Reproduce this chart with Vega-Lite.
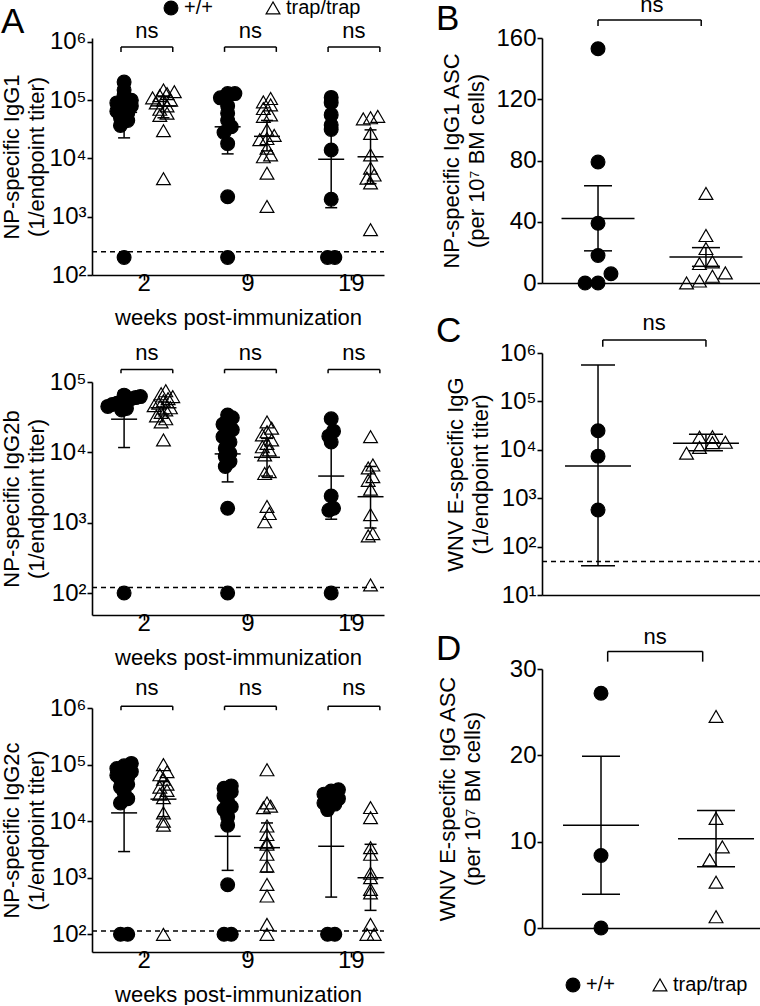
{
"$schema": "https://vega.github.io/schema/vega-lite/v6.json",
"padding": {"top": -12, "left": 0, "right": 0, "bottom": 0},
"background": "white",
"config": {
  "font": "Liberation Sans",
  "view": {"stroke": null},
  "axis": {"grid": false, "domainColor": "black", "domainWidth": 1.6, "tickColor": "black", "tickWidth": 1.6, "tickSize": 5, "labelColor": "black", "labelFont": "Liberation Sans", "labelFontSize": 24, "labelPadding": 1, "titleFont": "Liberation Sans", "titleFontSize": 22, "titleFontWeight": "normal", "titleColor": "black", "titleLineHeight": 25, "labelFlush": false, "labelAngle": 0},
  "axisX": {"titlePadding": 12, "labelPadding": -9},
  "title": {"font": "Liberation Sans", "fontSize": 35, "fontWeight": "normal", "color": "black", "anchor": "start", "frame": "group", "baseline": "alphabetic", "offset": 0}
},
"datasets": {
  "pts": [
    {"p":"a1","w":"2","g":"+/+","v":205000},{"p":"a1","w":"2","g":"+/+","v":150000},{"p":"a1","w":"2","g":"+/+","v":120000},{"p":"a1","w":"2","g":"+/+","v":100000},{"p":"a1","w":"2","g":"+/+","v":100000},{"p":"a1","w":"2","g":"+/+","v":90000},{"p":"a1","w":"2","g":"+/+","v":80000},{"p":"a1","w":"2","g":"+/+","v":70000},{"p":"a1","w":"2","g":"+/+","v":65000},{"p":"a1","w":"2","g":"+/+","v":60000},{"p":"a1","w":"2","g":"+/+","v":50000},{"p":"a1","w":"2","g":"+/+","v":45000},{"p":"a1","w":"2","g":"+/+","v":37000},{"p":"a1","w":"2","g":"+/+","v":200},
    {"p":"a1","w":"2","g":"trap/trap","v":150000},{"p":"a1","w":"2","g":"trap/trap","v":140000},{"p":"a1","w":"2","g":"trap/trap","v":130000},{"p":"a1","w":"2","g":"trap/trap","v":120000},{"p":"a1","w":"2","g":"trap/trap","v":110000},{"p":"a1","w":"2","g":"trap/trap","v":100000},{"p":"a1","w":"2","g":"trap/trap","v":100000},{"p":"a1","w":"2","g":"trap/trap","v":90000},{"p":"a1","w":"2","g":"trap/trap","v":80000},{"p":"a1","w":"2","g":"trap/trap","v":70000},{"p":"a1","w":"2","g":"trap/trap","v":60000},{"p":"a1","w":"2","g":"trap/trap","v":55000},{"p":"a1","w":"2","g":"trap/trap","v":30000},{"p":"a1","w":"2","g":"trap/trap","v":4500},
    {"p":"a1","w":"9","g":"+/+","v":130000},{"p":"a1","w":"9","g":"+/+","v":130000},{"p":"a1","w":"9","g":"+/+","v":110000},{"p":"a1","w":"9","g":"+/+","v":80000},{"p":"a1","w":"9","g":"+/+","v":60000},{"p":"a1","w":"9","g":"+/+","v":45000},{"p":"a1","w":"9","g":"+/+","v":35000},{"p":"a1","w":"9","g":"+/+","v":28000},{"p":"a1","w":"9","g":"+/+","v":18000},{"p":"a1","w":"9","g":"+/+","v":2200},{"p":"a1","w":"9","g":"+/+","v":200},
    {"p":"a1","w":"9","g":"trap/trap","v":107000},{"p":"a1","w":"9","g":"trap/trap","v":94000},{"p":"a1","w":"9","g":"trap/trap","v":83000},{"p":"a1","w":"9","g":"trap/trap","v":72000},{"p":"a1","w":"9","g":"trap/trap","v":56000},{"p":"a1","w":"9","g":"trap/trap","v":53000},{"p":"a1","w":"9","g":"trap/trap","v":31000},{"p":"a1","w":"9","g":"trap/trap","v":25000},{"p":"a1","w":"9","g":"trap/trap","v":22000},{"p":"a1","w":"9","g":"trap/trap","v":21000},{"p":"a1","w":"9","g":"trap/trap","v":15000},{"p":"a1","w":"9","g":"trap/trap","v":11500},{"p":"a1","w":"9","g":"trap/trap","v":10700},{"p":"a1","w":"9","g":"trap/trap","v":5600},{"p":"a1","w":"9","g":"trap/trap","v":1500},
    {"p":"a1","w":"19","g":"+/+","v":112000},{"p":"a1","w":"19","g":"+/+","v":91000},{"p":"a1","w":"19","g":"+/+","v":56000},{"p":"a1","w":"19","g":"+/+","v":37600},{"p":"a1","w":"19","g":"+/+","v":31500},{"p":"a1","w":"19","g":"+/+","v":14000},{"p":"a1","w":"19","g":"+/+","v":2000},{"p":"a1","w":"19","g":"+/+","v":200},{"p":"a1","w":"19","g":"+/+","v":200},
    {"p":"a1","w":"19","g":"trap/trap","v":53000},{"p":"a1","w":"19","g":"trap/trap","v":50000},{"p":"a1","w":"19","g":"trap/trap","v":48000},{"p":"a1","w":"19","g":"trap/trap","v":27000},{"p":"a1","w":"19","g":"trap/trap","v":11500},{"p":"a1","w":"19","g":"trap/trap","v":6800},{"p":"a1","w":"19","g":"trap/trap","v":5200},{"p":"a1","w":"19","g":"trap/trap","v":4600},{"p":"a1","w":"19","g":"trap/trap","v":3800},{"p":"a1","w":"19","g":"trap/trap","v":600},
    {"p":"a2","w":"2","g":"+/+","v":65000},{"p":"a2","w":"2","g":"+/+","v":62000},{"p":"a2","w":"2","g":"+/+","v":60000},{"p":"a2","w":"2","g":"+/+","v":58000},{"p":"a2","w":"2","g":"+/+","v":55000},{"p":"a2","w":"2","g":"+/+","v":52000},{"p":"a2","w":"2","g":"+/+","v":50000},{"p":"a2","w":"2","g":"+/+","v":48000},{"p":"a2","w":"2","g":"+/+","v":45000},{"p":"a2","w":"2","g":"+/+","v":42000},{"p":"a2","w":"2","g":"+/+","v":40000},{"p":"a2","w":"2","g":"+/+","v":100},
    {"p":"a2","w":"2","g":"trap/trap","v":75000},{"p":"a2","w":"2","g":"trap/trap","v":68000},{"p":"a2","w":"2","g":"trap/trap","v":62000},{"p":"a2","w":"2","g":"trap/trap","v":58000},{"p":"a2","w":"2","g":"trap/trap","v":54000},{"p":"a2","w":"2","g":"trap/trap","v":50000},{"p":"a2","w":"2","g":"trap/trap","v":46000},{"p":"a2","w":"2","g":"trap/trap","v":43000},{"p":"a2","w":"2","g":"trap/trap","v":40000},{"p":"a2","w":"2","g":"trap/trap","v":37000},{"p":"a2","w":"2","g":"trap/trap","v":33000},{"p":"a2","w":"2","g":"trap/trap","v":30000},{"p":"a2","w":"2","g":"trap/trap","v":27000},{"p":"a2","w":"2","g":"trap/trap","v":15000},
    {"p":"a2","w":"9","g":"+/+","v":34000},{"p":"a2","w":"9","g":"+/+","v":31000},{"p":"a2","w":"9","g":"+/+","v":29000},{"p":"a2","w":"9","g":"+/+","v":25000},{"p":"a2","w":"9","g":"+/+","v":21000},{"p":"a2","w":"9","g":"+/+","v":19000},{"p":"a2","w":"9","g":"+/+","v":16700},{"p":"a2","w":"9","g":"+/+","v":14000},{"p":"a2","w":"9","g":"+/+","v":11400},{"p":"a2","w":"9","g":"+/+","v":9700},{"p":"a2","w":"9","g":"+/+","v":8700},{"p":"a2","w":"9","g":"+/+","v":7400},{"p":"a2","w":"9","g":"+/+","v":6300},{"p":"a2","w":"9","g":"+/+","v":1600},{"p":"a2","w":"9","g":"+/+","v":100},
    {"p":"a2","w":"9","g":"trap/trap","v":27000},{"p":"a2","w":"9","g":"trap/trap","v":22000},{"p":"a2","w":"9","g":"trap/trap","v":19600},{"p":"a2","w":"9","g":"trap/trap","v":17700},{"p":"a2","w":"9","g":"trap/trap","v":15000},{"p":"a2","w":"9","g":"trap/trap","v":13400},{"p":"a2","w":"9","g":"trap/trap","v":12000},{"p":"a2","w":"9","g":"trap/trap","v":10800},{"p":"a2","w":"9","g":"trap/trap","v":9200},{"p":"a2","w":"9","g":"trap/trap","v":5300},{"p":"a2","w":"9","g":"trap/trap","v":5000},{"p":"a2","w":"9","g":"trap/trap","v":1700},{"p":"a2","w":"9","g":"trap/trap","v":1350},{"p":"a2","w":"9","g":"trap/trap","v":1030},
    {"p":"a2","w":"19","g":"+/+","v":30000},{"p":"a2","w":"19","g":"+/+","v":20000},{"p":"a2","w":"19","g":"+/+","v":17000},{"p":"a2","w":"19","g":"+/+","v":14000},{"p":"a2","w":"19","g":"+/+","v":2400},{"p":"a2","w":"19","g":"+/+","v":1600},{"p":"a2","w":"19","g":"+/+","v":1500},{"p":"a2","w":"19","g":"+/+","v":100},
    {"p":"a2","w":"19","g":"trap/trap","v":16700},{"p":"a2","w":"19","g":"trap/trap","v":6600},{"p":"a2","w":"19","g":"trap/trap","v":6000},{"p":"a2","w":"19","g":"trap/trap","v":4500},{"p":"a2","w":"19","g":"trap/trap","v":4000},{"p":"a2","w":"19","g":"trap/trap","v":3000},{"p":"a2","w":"19","g":"trap/trap","v":1300},{"p":"a2","w":"19","g":"trap/trap","v":700},{"p":"a2","w":"19","g":"trap/trap","v":650},{"p":"a2","w":"19","g":"trap/trap","v":130},
    {"p":"a3","w":"2","g":"+/+","v":105000},{"p":"a3","w":"2","g":"+/+","v":95000},{"p":"a3","w":"2","g":"+/+","v":85000},{"p":"a3","w":"2","g":"+/+","v":75000},{"p":"a3","w":"2","g":"+/+","v":70000},{"p":"a3","w":"2","g":"+/+","v":65000},{"p":"a3","w":"2","g":"+/+","v":60000},{"p":"a3","w":"2","g":"+/+","v":55000},{"p":"a3","w":"2","g":"+/+","v":45000},{"p":"a3","w":"2","g":"+/+","v":40000},{"p":"a3","w":"2","g":"+/+","v":32000},{"p":"a3","w":"2","g":"+/+","v":25000},{"p":"a3","w":"2","g":"+/+","v":21000},{"p":"a3","w":"2","g":"+/+","v":100},{"p":"a3","w":"2","g":"+/+","v":100},
    {"p":"a3","w":"2","g":"trap/trap","v":100000},{"p":"a3","w":"2","g":"trap/trap","v":75000},{"p":"a3","w":"2","g":"trap/trap","v":66000},{"p":"a3","w":"2","g":"trap/trap","v":55000},{"p":"a3","w":"2","g":"trap/trap","v":45000},{"p":"a3","w":"2","g":"trap/trap","v":40000},{"p":"a3","w":"2","g":"trap/trap","v":35000},{"p":"a3","w":"2","g":"trap/trap","v":30000},{"p":"a3","w":"2","g":"trap/trap","v":26000},{"p":"a3","w":"2","g":"trap/trap","v":14000},{"p":"a3","w":"2","g":"trap/trap","v":10000},{"p":"a3","w":"2","g":"trap/trap","v":8500},{"p":"a3","w":"2","g":"trap/trap","v":100},
    {"p":"a3","w":"9","g":"+/+","v":42000},{"p":"a3","w":"9","g":"+/+","v":38000},{"p":"a3","w":"9","g":"+/+","v":33000},{"p":"a3","w":"9","g":"+/+","v":28000},{"p":"a3","w":"9","g":"+/+","v":22000},{"p":"a3","w":"9","g":"+/+","v":18000},{"p":"a3","w":"9","g":"+/+","v":16000},{"p":"a3","w":"9","g":"+/+","v":12000},{"p":"a3","w":"9","g":"+/+","v":8500},{"p":"a3","w":"9","g":"+/+","v":750},{"p":"a3","w":"9","g":"+/+","v":100},{"p":"a3","w":"9","g":"+/+","v":100},
    {"p":"a3","w":"9","g":"trap/trap","v":81000},{"p":"a3","w":"9","g":"trap/trap","v":21000},{"p":"a3","w":"9","g":"trap/trap","v":18400},{"p":"a3","w":"9","g":"trap/trap","v":17300},{"p":"a3","w":"9","g":"trap/trap","v":8200},{"p":"a3","w":"9","g":"trap/trap","v":5800},{"p":"a3","w":"9","g":"trap/trap","v":4150},{"p":"a3","w":"9","g":"trap/trap","v":3900},{"p":"a3","w":"9","g":"trap/trap","v":2600},{"p":"a3","w":"9","g":"trap/trap","v":1600},{"p":"a3","w":"9","g":"trap/trap","v":760},{"p":"a3","w":"9","g":"trap/trap","v":475},{"p":"a3","w":"9","g":"trap/trap","v":150},{"p":"a3","w":"9","g":"trap/trap","v":100},
    {"p":"a3","w":"19","g":"+/+","v":36000},{"p":"a3","w":"19","g":"+/+","v":34000},{"p":"a3","w":"19","g":"+/+","v":30000},{"p":"a3","w":"19","g":"+/+","v":25000},{"p":"a3","w":"19","g":"+/+","v":22000},{"p":"a3","w":"19","g":"+/+","v":21000},{"p":"a3","w":"19","g":"+/+","v":20000},{"p":"a3","w":"19","g":"+/+","v":16000},{"p":"a3","w":"19","g":"+/+","v":100},{"p":"a3","w":"19","g":"+/+","v":100},
    {"p":"a3","w":"19","g":"trap/trap","v":17400},{"p":"a3","w":"19","g":"trap/trap","v":11500},{"p":"a3","w":"19","g":"trap/trap","v":3400},{"p":"a3","w":"19","g":"trap/trap","v":2600},{"p":"a3","w":"19","g":"trap/trap","v":1200},{"p":"a3","w":"19","g":"trap/trap","v":1000},{"p":"a3","w":"19","g":"trap/trap","v":620},{"p":"a3","w":"19","g":"trap/trap","v":540},{"p":"a3","w":"19","g":"trap/trap","v":150},{"p":"a3","w":"19","g":"trap/trap","v":100},{"p":"a3","w":"19","g":"trap/trap","v":100},
    {"p":"b","w":"","g":"+/+","v":153},{"p":"b","w":"","g":"+/+","v":79},{"p":"b","w":"","g":"+/+","v":39},{"p":"b","w":"","g":"+/+","v":18},{"p":"b","w":"","g":"+/+","v":6},{"p":"b","w":"","g":"+/+","v":0},{"p":"b","w":"","g":"+/+","v":0},
    {"p":"b","w":"","g":"trap/trap","v":58.5},{"p":"b","w":"","g":"trap/trap","v":31},{"p":"b","w":"","g":"trap/trap","v":22.5},{"p":"b","w":"","g":"trap/trap","v":13.8},{"p":"b","w":"","g":"trap/trap","v":12.7},{"p":"b","w":"","g":"trap/trap","v":6.6},{"p":"b","w":"","g":"trap/trap","v":4.4},{"p":"b","w":"","g":"trap/trap","v":1.3},{"p":"b","w":"","g":"trap/trap","v":0},
    {"p":"c","w":"","g":"+/+","v":24800},{"p":"c","w":"","g":"+/+","v":7400},{"p":"c","w":"","g":"+/+","v":570},
    {"p":"c","w":"","g":"trap/trap","v":18600},{"p":"c","w":"","g":"trap/trap","v":18200},{"p":"c","w":"","g":"trap/trap","v":14300},{"p":"c","w":"","g":"trap/trap","v":14000},{"p":"c","w":"","g":"trap/trap","v":11200},{"p":"c","w":"","g":"trap/trap","v":8500},
    {"p":"d","w":"","g":"+/+","v":27.2},{"p":"d","w":"","g":"+/+","v":8.4},{"p":"d","w":"","g":"+/+","v":0},
    {"p":"d","w":"","g":"trap/trap","v":24.5},{"p":"d","w":"","g":"trap/trap","v":12.7},{"p":"d","w":"","g":"trap/trap","v":9.4},{"p":"d","w":"","g":"trap/trap","v":7.9},{"p":"d","w":"","g":"trap/trap","v":5.3},{"p":"d","w":"","g":"trap/trap","v":1.3}
  ],
  "st": [
    {"p":"a1","w":"2","g":"+/+","m":62000,"lo":22600,"hi":170000},{"p":"a1","w":"2","g":"trap/trap","m":80000,"lo":50000,"hi":115000},
    {"p":"a1","w":"9","g":"+/+","m":35000,"lo":12000,"hi":100000},{"p":"a1","w":"9","g":"trap/trap","m":24000,"lo":13500,"hi":45000},
    {"p":"a1","w":"19","g":"+/+","m":9700,"lo":1430,"hi":67000},{"p":"a1","w":"19","g":"trap/trap","m":10700,"lo":3700,"hi":31000},
    {"p":"a2","w":"2","g":"+/+","m":29600,"lo":11700,"hi":75000},{"p":"a2","w":"2","g":"trap/trap","m":43000,"lo":35000,"hi":52000},
    {"p":"a2","w":"9","g":"+/+","m":9500,"lo":3800,"hi":24000},{"p":"a2","w":"9","g":"trap/trap","m":8500,"lo":4600,"hi":15800},
    {"p":"a2","w":"19","g":"+/+","m":4600,"lo":1120,"hi":19500},{"p":"a2","w":"19","g":"trap/trap","m":2340,"lo":840,"hi":6300},
    {"p":"a3","w":"2","g":"+/+","m":14000,"lo":2900,"hi":68000},{"p":"a3","w":"2","g":"trap/trap","m":24500,"lo":12000,"hi":50000},
    {"p":"a3","w":"9","g":"+/+","m":5400,"lo":1350,"hi":21000},{"p":"a3","w":"9","g":"trap/trap","m":3400,"lo":1260,"hi":9300},
    {"p":"a3","w":"19","g":"+/+","m":3600,"lo":455,"hi":28000},{"p":"a3","w":"19","g":"trap/trap","m":1000,"lo":265,"hi":3900},
    {"p":"b","w":"","g":"+/+","m":42.1,"lo":21,"hi":63.5},{"p":"b","w":"","g":"trap/trap","m":17,"lo":10.9,"hi":23.1},
    {"p":"c","w":"","g":"+/+","m":4600,"lo":40,"hi":562000},{"p":"c","w":"","g":"trap/trap","m":13600,"lo":9600,"hi":21000},
    {"p":"d","w":"","g":"+/+","m":11.9,"lo":3.9,"hi":19.9},{"p":"d","w":"","g":"trap/trap","m":10.35,"lo":7.1,"hi":13.6}
  ],
  "lim": [{"p":"a1","v":250},{"p":"a2","v":120},{"p":"a3","v":115},{"p":"c","v":49}],
  "br": [
    {"p":"a1","w":"2","y":820000,"e":676000},{"p":"a1","w":"9","y":820000,"e":676000},{"p":"a1","w":"19","y":820000,"e":676000},
    {"p":"a2","w":"2","y":151000,"e":133000},{"p":"a2","w":"9","y":151000,"e":133000},{"p":"a2","w":"19","y":151000,"e":133000},
    {"p":"a3","w":"2","y":1070000,"e":915000},{"p":"a3","w":"9","y":1070000,"e":915000},{"p":"a3","w":"19","y":1070000,"e":915000},
    {"p":"b","w":"","y":171.8,"e":167.8},{"p":"c","w":"","y":1860000,"e":1350000},{"p":"d","w":"","y":32.04,"e":30.85}
  ]
},
"hconcat": [
 {"vconcat": [
  {"width": 292, "height": 237,
   "title": {"text": "A", "dx": -91, "dy": 56},
   "encoding": {
     "x": {"field": "px", "type": "quantitative", "scale": {"domain": [-0.5, 2.32], "nice": false, "zero": false}, "axis": {"values": [0, 1, 2], "labelExpr": "['2','9','19'][datum.value]", "title": "weeks post-immunization"}},
     "y": {"field": "yv", "type": "quantitative", "scale": {"type": "log", "domain": [100, 1171000], "nice": false}, "axis": {"values": [100, 1000, 10000, 100000, 1000000], "labelExpr": "'10' + ['⁰','¹','²','³','⁴','⁵','⁶'][round(log(datum.value)/LN10)]", "title": ["NP-specific IgG1", "(1/endpoint titer)"], "titlePadding": 0}}
   },
   "layer": [
    {"data": {"name": "lim"}, "transform": [{"filter": "datum.p == 'a1'"}, {"calculate": "-0.5", "as": "px"}, {"calculate": "2.32", "as": "px2"}, {"calculate": "datum.v", "as": "yv"}], "mark": {"type": "rule", "color": "black", "strokeWidth": 1.5, "strokeDash": [5, 4]}, "encoding": {"x2": {"field": "px2"}}},
    {"data": {"name": "br"}, "transform": [{"filter": "datum.p == 'a1'"}, {"calculate": "indexof(['2','9','19'], datum.w) - 0.22", "as": "px"}, {"calculate": "indexof(['2','9','19'], datum.w) + 0.28", "as": "px2"}, {"calculate": "datum.y", "as": "yv"}], "mark": {"type": "rule", "color": "black", "strokeWidth": 1.5}, "encoding": {"x2": {"field": "px2"}}},
    {"data": {"name": "br"}, "transform": [{"filter": "datum.p == 'a1'"}, {"calculate": "indexof(['2','9','19'], datum.w) - 0.22", "as": "xa"}, {"calculate": "indexof(['2','9','19'], datum.w) + 0.28", "as": "xb"}, {"fold": ["xa", "xb"], "as": ["k", "px"]}, {"calculate": "datum.y", "as": "yv"}], "mark": {"type": "rule", "color": "black", "strokeWidth": 1.5}, "encoding": {"y2": {"field": "e"}}},
    {"data": {"name": "br"}, "transform": [{"filter": "datum.p == 'a1'"}, {"calculate": "indexof(['2','9','19'], datum.w) + 0.03", "as": "px"}, {"calculate": "datum.y", "as": "yv"}], "mark": {"type": "text", "text": "ns", "fontSize": 22, "dy": -9, "baseline": "alphabetic", "color": "black"}},
    {"data": {"name": "st"}, "transform": [{"filter": "datum.p == 'a1'"}, {"calculate": "indexof(['2','9','19'], datum.w) + (datum.g == '+/+' ? -0.19 : 0.19)", "as": "px"}, {"calculate": "datum.lo", "as": "yv"}], "mark": {"type": "rule", "color": "black", "strokeWidth": 1.5}, "encoding": {"y2": {"field": "hi"}}},
    {"data": {"name": "st"}, "transform": [{"filter": "datum.p == 'a1'"}, {"calculate": "indexof(['2','9','19'], datum.w) + (datum.g == '+/+' ? -0.19 : 0.19)", "as": "px"}, {"calculate": "datum.m", "as": "yv"}], "mark": {"type": "tick", "orient": "horizontal", "size": 26, "thickness": 1.5, "color": "black", "opacity": 1}},
    {"data": {"name": "st"}, "transform": [{"filter": "datum.p == 'a1'"}, {"calculate": "indexof(['2','9','19'], datum.w) + (datum.g == '+/+' ? -0.19 : 0.19)", "as": "px"}, {"fold": ["lo", "hi"], "as": ["k", "yv"]}], "mark": {"type": "tick", "orient": "horizontal", "size": 12, "thickness": 1.5, "color": "black", "opacity": 1}},
    {"data": {"name": "pts"}, "transform": [{"filter": "datum.p == 'a1'"}, {"calculate": "floor(log(datum.v)/LN10/0.12)", "as": "b"}, {"window": [{"op": "row_number", "as": "r"}], "groupby": ["w", "g", "b"], "sort": [{"field": "v", "order": "ascending"}]}, {"joinaggregate": [{"op": "count", "as": "n"}], "groupby": ["w", "g", "b"]}, {"calculate": "indexof(['2','9','19'], datum.w) + (datum.g == '+/+' ? -0.19 : 0.19) + (datum.r - (datum.n + 1) / 2) * 0.07", "as": "px"}, {"calculate": "datum.v", "as": "yv"}],
     "mark": {"type": "point", "filled": true, "size": 190, "strokeWidth": 1.2, "opacity": 1},
     "encoding": {
       "shape": {"field": "g", "type": "nominal", "scale": {"domain": ["+/+", "trap/trap"], "range": ["circle", "triangle-up"]}, "legend": {"orient": "none", "legendX": 59, "legendY": -50, "direction": "horizontal", "title": null, "labelFontSize": 20, "labelFont": "Liberation Sans", "labelColor": "black", "symbolSize": 190, "symbolStrokeWidth": 1.2, "labelOffset": 3, "columnPadding": 50, "padding": 10}},
       "fill": {"field": "g", "type": "nominal", "scale": {"domain": ["+/+", "trap/trap"], "range": ["black", "transparent"]}, "legend": {"orient": "none", "legendX": 59, "legendY": -50, "direction": "horizontal", "title": null, "labelFontSize": 20, "labelFont": "Liberation Sans", "labelColor": "black", "symbolSize": 190, "symbolStrokeWidth": 1.2, "labelOffset": 3, "columnPadding": 50, "padding": 10}},
       "stroke": {"field": "g", "type": "nominal", "scale": {"domain": ["+/+", "trap/trap"], "range": ["black", "black"]}, "legend": {"orient": "none", "legendX": 59, "legendY": -50, "direction": "horizontal", "title": null, "labelFontSize": 20, "labelFont": "Liberation Sans", "labelColor": "black", "symbolSize": 190, "symbolStrokeWidth": 1.2, "labelOffset": 3, "columnPadding": 50, "padding": 10}}
     }}
   ]},
  {"vconcat": [
   {"width": 292, "height": 233,
    "encoding": {
      "x": {"field": "px", "type": "quantitative", "scale": {"domain": [-0.5, 2.32], "nice": false, "zero": false}, "axis": {"values": [0, 1, 2], "labelExpr": "['2','9','19'][datum.value]", "title": "weeks post-immunization"}},
      "y": {"field": "yv", "type": "quantitative", "scale": {"type": "log", "domain": [48.7, 100000], "nice": false}, "axis": {"values": [100, 1000, 10000, 100000], "labelExpr": "'10' + ['⁰','¹','²','³','⁴','⁵','⁶'][round(log(datum.value)/LN10)]", "title": ["NP-specific IgG2b", "(1/endpoint titer)"], "titlePadding": 0}}
    },
    "layer": [
     {"data": {"name": "lim"}, "transform": [{"filter": "datum.p == 'a2'"}, {"calculate": "-0.5", "as": "px"}, {"calculate": "2.32", "as": "px2"}, {"calculate": "datum.v", "as": "yv"}], "mark": {"type": "rule", "color": "black", "strokeWidth": 1.5, "strokeDash": [5, 4]}, "encoding": {"x2": {"field": "px2"}}},
     {"data": {"name": "br"}, "transform": [{"filter": "datum.p == 'a2'"}, {"calculate": "indexof(['2','9','19'], datum.w) - 0.22", "as": "px"}, {"calculate": "indexof(['2','9','19'], datum.w) + 0.28", "as": "px2"}, {"calculate": "datum.y", "as": "yv"}], "mark": {"type": "rule", "color": "black", "strokeWidth": 1.5}, "encoding": {"x2": {"field": "px2"}}},
     {"data": {"name": "br"}, "transform": [{"filter": "datum.p == 'a2'"}, {"calculate": "indexof(['2','9','19'], datum.w) - 0.22", "as": "xa"}, {"calculate": "indexof(['2','9','19'], datum.w) + 0.28", "as": "xb"}, {"fold": ["xa", "xb"], "as": ["k", "px"]}, {"calculate": "datum.y", "as": "yv"}], "mark": {"type": "rule", "color": "black", "strokeWidth": 1.5}, "encoding": {"y2": {"field": "e"}}},
     {"data": {"name": "br"}, "transform": [{"filter": "datum.p == 'a2'"}, {"calculate": "indexof(['2','9','19'], datum.w) + 0.03", "as": "px"}, {"calculate": "datum.y", "as": "yv"}], "mark": {"type": "text", "text": "ns", "fontSize": 22, "dy": -9, "baseline": "alphabetic", "color": "black"}},
     {"data": {"name": "st"}, "transform": [{"filter": "datum.p == 'a2'"}, {"calculate": "indexof(['2','9','19'], datum.w) + (datum.g == '+/+' ? -0.19 : 0.19)", "as": "px"}, {"calculate": "datum.lo", "as": "yv"}], "mark": {"type": "rule", "color": "black", "strokeWidth": 1.5}, "encoding": {"y2": {"field": "hi"}}},
     {"data": {"name": "st"}, "transform": [{"filter": "datum.p == 'a2'"}, {"calculate": "indexof(['2','9','19'], datum.w) + (datum.g == '+/+' ? -0.19 : 0.19)", "as": "px"}, {"calculate": "datum.m", "as": "yv"}], "mark": {"type": "tick", "orient": "horizontal", "size": 26, "thickness": 1.5, "color": "black", "opacity": 1}},
     {"data": {"name": "st"}, "transform": [{"filter": "datum.p == 'a2'"}, {"calculate": "indexof(['2','9','19'], datum.w) + (datum.g == '+/+' ? -0.19 : 0.19)", "as": "px"}, {"fold": ["lo", "hi"], "as": ["k", "yv"]}], "mark": {"type": "tick", "orient": "horizontal", "size": 12, "thickness": 1.5, "color": "black", "opacity": 1}},
     {"data": {"name": "pts"}, "transform": [{"filter": "datum.p == 'a2'"}, {"calculate": "floor(log(datum.v)/LN10/0.15)", "as": "b"}, {"window": [{"op": "row_number", "as": "r"}], "groupby": ["w", "g", "b"], "sort": [{"field": "v", "order": "ascending"}]}, {"joinaggregate": [{"op": "count", "as": "n"}], "groupby": ["w", "g", "b"]}, {"calculate": "indexof(['2','9','19'], datum.w) + (datum.g == '+/+' ? -0.19 : 0.19) + (datum.r - (datum.n + 1) / 2) * 0.045", "as": "px"}, {"calculate": "datum.v", "as": "yv"}],
      "mark": {"type": "point", "filled": true, "size": 190, "stroke": "black", "strokeWidth": 1.2, "opacity": 1},
      "encoding": {
        "shape": {"field": "g", "type": "nominal", "scale": {"domain": ["+/+", "trap/trap"], "range": ["circle", "triangle-up"]}, "legend": null},
        "fill": {"field": "g", "type": "nominal", "scale": {"domain": ["+/+", "trap/trap"], "range": ["black", "transparent"]}, "legend": null}
      }}
    ]},
   {"width": 292, "height": 244,
    "encoding": {
      "x": {"field": "px", "type": "quantitative", "scale": {"domain": [-0.5, 2.32], "nice": false, "zero": false}, "axis": {"values": [0, 1, 2], "labelExpr": "['2','9','19'][datum.value]", "title": "weeks post-immunization"}},
      "y": {"field": "yv", "type": "quantitative", "scale": {"type": "log", "domain": [48.7, 1000000], "nice": false}, "axis": {"values": [100, 1000, 10000, 100000, 1000000], "labelExpr": "'10' + ['⁰','¹','²','³','⁴','⁵','⁶'][round(log(datum.value)/LN10)]", "title": ["NP-specific IgG2c", "(1/endpoint titer)"], "titlePadding": 0}}
    },
    "layer": [
     {"data": {"name": "lim"}, "transform": [{"filter": "datum.p == 'a3'"}, {"calculate": "-0.5", "as": "px"}, {"calculate": "2.32", "as": "px2"}, {"calculate": "datum.v", "as": "yv"}], "mark": {"type": "rule", "color": "black", "strokeWidth": 1.5, "strokeDash": [5, 4]}, "encoding": {"x2": {"field": "px2"}}},
     {"data": {"name": "br"}, "transform": [{"filter": "datum.p == 'a3'"}, {"calculate": "indexof(['2','9','19'], datum.w) - 0.22", "as": "px"}, {"calculate": "indexof(['2','9','19'], datum.w) + 0.28", "as": "px2"}, {"calculate": "datum.y", "as": "yv"}], "mark": {"type": "rule", "color": "black", "strokeWidth": 1.5}, "encoding": {"x2": {"field": "px2"}}},
     {"data": {"name": "br"}, "transform": [{"filter": "datum.p == 'a3'"}, {"calculate": "indexof(['2','9','19'], datum.w) - 0.22", "as": "xa"}, {"calculate": "indexof(['2','9','19'], datum.w) + 0.28", "as": "xb"}, {"fold": ["xa", "xb"], "as": ["k", "px"]}, {"calculate": "datum.y", "as": "yv"}], "mark": {"type": "rule", "color": "black", "strokeWidth": 1.5}, "encoding": {"y2": {"field": "e"}}},
     {"data": {"name": "br"}, "transform": [{"filter": "datum.p == 'a3'"}, {"calculate": "indexof(['2','9','19'], datum.w) + 0.03", "as": "px"}, {"calculate": "datum.y", "as": "yv"}], "mark": {"type": "text", "text": "ns", "fontSize": 22, "dy": -11, "baseline": "alphabetic", "color": "black"}},
     {"data": {"name": "st"}, "transform": [{"filter": "datum.p == 'a3'"}, {"calculate": "indexof(['2','9','19'], datum.w) + (datum.g == '+/+' ? -0.19 : 0.19)", "as": "px"}, {"calculate": "datum.lo", "as": "yv"}], "mark": {"type": "rule", "color": "black", "strokeWidth": 1.5}, "encoding": {"y2": {"field": "hi"}}},
     {"data": {"name": "st"}, "transform": [{"filter": "datum.p == 'a3'"}, {"calculate": "indexof(['2','9','19'], datum.w) + (datum.g == '+/+' ? -0.19 : 0.19)", "as": "px"}, {"calculate": "datum.m", "as": "yv"}], "mark": {"type": "tick", "orient": "horizontal", "size": 26, "thickness": 1.5, "color": "black", "opacity": 1}},
     {"data": {"name": "st"}, "transform": [{"filter": "datum.p == 'a3'"}, {"calculate": "indexof(['2','9','19'], datum.w) + (datum.g == '+/+' ? -0.19 : 0.19)", "as": "px"}, {"fold": ["lo", "hi"], "as": ["k", "yv"]}], "mark": {"type": "tick", "orient": "horizontal", "size": 12, "thickness": 1.5, "color": "black", "opacity": 1}},
     {"data": {"name": "pts"}, "transform": [{"filter": "datum.p == 'a3'"}, {"calculate": "floor(log(datum.v)/LN10/0.12)", "as": "b"}, {"window": [{"op": "row_number", "as": "r"}], "groupby": ["w", "g", "b"], "sort": [{"field": "v", "order": "ascending"}]}, {"joinaggregate": [{"op": "count", "as": "n"}], "groupby": ["w", "g", "b"]}, {"calculate": "indexof(['2','9','19'], datum.w) + (datum.g == '+/+' ? -0.19 : 0.19) + (datum.r - (datum.n + 1) / 2) * 0.07", "as": "px"}, {"calculate": "datum.v", "as": "yv"}],
      "mark": {"type": "point", "filled": true, "size": 190, "stroke": "black", "strokeWidth": 1.2, "opacity": 1},
      "encoding": {
        "shape": {"field": "g", "type": "nominal", "scale": {"domain": ["+/+", "trap/trap"], "range": ["circle", "triangle-up"]}, "legend": null},
        "fill": {"field": "g", "type": "nominal", "scale": {"domain": ["+/+", "trap/trap"], "range": ["black", "transparent"]}, "legend": null}
      }}
    ]}
  ], "spacing": 93, "bounds": "flush",
  "resolve": {"scale": {"shape": "independent", "fill": "independent", "stroke": "independent"}, "legend": {"shape": "independent", "fill": "independent", "stroke": "independent"}}}
 ], "spacing": 107, "bounds": "flush",
 "resolve": {"scale": {"shape": "independent", "fill": "independent", "stroke": "independent"}, "legend": {"shape": "independent", "fill": "independent", "stroke": "independent"}}},
 {"vconcat": [
  {"width": 219, "height": 245,
   "title": {"text": "B", "dx": -106, "dy": 47},
   "encoding": {
     "x": {"field": "px", "type": "quantitative", "scale": {"domain": [-0.519, 1.51], "nice": false, "zero": false}, "axis": {"labels": false, "ticks": false, "title": null}},
     "y": {"field": "yv", "type": "quantitative", "scale": {"domain": [0, 160], "nice": false}, "axis": {"values": [0, 40, 80, 120, 160], "title": ["NP-specific IgG1 ASC", "(per 10⁷ BM cells)"], "titlePadding": 7}}
   },
   "layer": [
    {"data": {"name": "br"}, "transform": [{"filter": "datum.p == 'b'"}, {"calculate": "0", "as": "px"}, {"calculate": "0.956", "as": "px2"}, {"calculate": "datum.y", "as": "yv"}], "mark": {"type": "rule", "color": "black", "strokeWidth": 1.5}, "encoding": {"x2": {"field": "px2"}}},
    {"data": {"name": "br"}, "transform": [{"filter": "datum.p == 'b'"}, {"calculate": "0", "as": "xa"}, {"calculate": "0.956", "as": "xb"}, {"fold": ["xa", "xb"], "as": ["k", "px"]}, {"calculate": "datum.y", "as": "yv"}], "mark": {"type": "rule", "color": "black", "strokeWidth": 1.5}, "encoding": {"y2": {"field": "e"}}},
    {"data": {"name": "br"}, "transform": [{"filter": "datum.p == 'b'"}, {"calculate": "0.5", "as": "px"}, {"calculate": "datum.y", "as": "yv"}], "mark": {"type": "text", "text": "ns", "fontSize": 22, "dy": -8, "baseline": "alphabetic", "color": "black"}},
    {"data": {"name": "st"}, "transform": [{"filter": "datum.p == 'b'"}, {"calculate": "datum.g == '+/+' ? 0 : 1", "as": "px"}, {"calculate": "datum.lo", "as": "yv"}], "mark": {"type": "rule", "color": "black", "strokeWidth": 1.5}, "encoding": {"y2": {"field": "hi"}}},
    {"data": {"name": "st"}, "transform": [{"filter": "datum.p == 'b'"}, {"calculate": "datum.g == '+/+' ? 0 : 1", "as": "px"}, {"calculate": "datum.m", "as": "yv"}], "mark": {"type": "tick", "orient": "horizontal", "size": 73, "thickness": 1.5, "color": "black", "opacity": 1}},
    {"data": {"name": "st"}, "transform": [{"filter": "datum.p == 'b'"}, {"calculate": "datum.g == '+/+' ? 0 : 1", "as": "px"}, {"fold": ["lo", "hi"], "as": ["k", "yv"]}], "mark": {"type": "tick", "orient": "horizontal", "size": 28, "thickness": 1.5, "color": "black", "opacity": 1}},
    {"data": {"name": "pts"}, "transform": [{"filter": "datum.p == 'b'"}, {"calculate": "floor(datum.v/8)", "as": "b"}, {"window": [{"op": "row_number", "as": "r"}], "groupby": ["g", "b"], "sort": [{"field": "v", "order": "ascending"}]}, {"joinaggregate": [{"op": "count", "as": "n"}], "groupby": ["g", "b"]}, {"calculate": "(datum.g == '+/+' ? 0 : 1) + (datum.r - (datum.n + 1) / 2) * 0.12", "as": "px"}, {"calculate": "datum.v", "as": "yv"}],
     "mark": {"type": "point", "filled": true, "size": 190, "stroke": "black", "strokeWidth": 1.2, "opacity": 1},
     "encoding": {
       "shape": {"field": "g", "type": "nominal", "scale": {"domain": ["+/+", "trap/trap"], "range": ["circle", "triangle-up"]}, "legend": null},
       "fill": {"field": "g", "type": "nominal", "scale": {"domain": ["+/+", "trap/trap"], "range": ["black", "transparent"]}, "legend": null}
     }}
   ]},
  {"vconcat": [
   {"width": 219, "height": 242,
    "title": {"text": "C", "dx": -106, "dy": 41},
    "encoding": {
      "x": {"field": "px", "type": "quantitative", "scale": {"domain": [-0.519, 1.51], "nice": false, "zero": false}, "axis": {"labels": false, "ticks": false, "title": null}},
      "y": {"field": "yv", "type": "quantitative", "scale": {"type": "log", "domain": [10, 1000000], "nice": false}, "axis": {"values": [10, 100, 1000, 10000, 100000, 1000000], "labelExpr": "'10' + ['⁰','¹','²','³','⁴','⁵','⁶'][round(log(datum.value)/LN10)]", "title": ["WNV E-specific IgG", "(1/endpoint titer)"], "titlePadding": 6}}
    },
    "layer": [
     {"data": {"name": "lim"}, "transform": [{"filter": "datum.p == 'c'"}, {"calculate": "-0.519", "as": "px"}, {"calculate": "1.51", "as": "px2"}, {"calculate": "datum.v", "as": "yv"}], "mark": {"type": "rule", "color": "black", "strokeWidth": 1.5, "strokeDash": [5, 4]}, "encoding": {"x2": {"field": "px2"}}},
     {"data": {"name": "br"}, "transform": [{"filter": "datum.p == 'c'"}, {"calculate": "0.044", "as": "px"}, {"calculate": "1.0", "as": "px2"}, {"calculate": "datum.y", "as": "yv"}], "mark": {"type": "rule", "color": "black", "strokeWidth": 1.5}, "encoding": {"x2": {"field": "px2"}}},
     {"data": {"name": "br"}, "transform": [{"filter": "datum.p == 'c'"}, {"calculate": "0.044", "as": "xa"}, {"calculate": "1.0", "as": "xb"}, {"fold": ["xa", "xb"], "as": ["k", "px"]}, {"calculate": "datum.y", "as": "yv"}], "mark": {"type": "rule", "color": "black", "strokeWidth": 1.5}, "encoding": {"y2": {"field": "e"}}},
     {"data": {"name": "br"}, "transform": [{"filter": "datum.p == 'c'"}, {"calculate": "0.52", "as": "px"}, {"calculate": "datum.y", "as": "yv"}], "mark": {"type": "text", "text": "ns", "fontSize": 22, "dy": -10, "baseline": "alphabetic", "color": "black"}},
     {"data": {"name": "st"}, "transform": [{"filter": "datum.p == 'c'"}, {"calculate": "datum.g == '+/+' ? 0 : 1", "as": "px"}, {"calculate": "datum.lo", "as": "yv"}], "mark": {"type": "rule", "color": "black", "strokeWidth": 1.5}, "encoding": {"y2": {"field": "hi"}}},
     {"data": {"name": "st"}, "transform": [{"filter": "datum.p == 'c'"}, {"calculate": "datum.g == '+/+' ? 0 : 1", "as": "px"}, {"calculate": "datum.m", "as": "yv"}], "mark": {"type": "tick", "orient": "horizontal", "size": 66, "thickness": 1.5, "color": "black", "opacity": 1}},
     {"data": {"name": "st"}, "transform": [{"filter": "datum.p == 'c'"}, {"calculate": "datum.g == '+/+' ? 0 : 1", "as": "px"}, {"fold": ["lo", "hi"], "as": ["k", "yv"]}], "mark": {"type": "tick", "orient": "horizontal", "size": 34, "thickness": 1.5, "color": "black", "opacity": 1}},
     {"data": {"name": "pts"}, "transform": [{"filter": "datum.p == 'c'"}, {"calculate": "floor(log(datum.v)/LN10/0.3)", "as": "b"}, {"window": [{"op": "row_number", "as": "r"}], "groupby": ["g", "b"], "sort": [{"field": "v", "order": "ascending"}]}, {"joinaggregate": [{"op": "count", "as": "n"}], "groupby": ["g", "b"]}, {"calculate": "(datum.g == '+/+' ? 0 : 1) + (datum.r - (datum.n + 1) / 2) * 0.12", "as": "px"}, {"calculate": "datum.v", "as": "yv"}],
      "mark": {"type": "point", "filled": true, "size": 190, "stroke": "black", "strokeWidth": 1.2, "opacity": 1},
      "encoding": {
        "shape": {"field": "g", "type": "nominal", "scale": {"domain": ["+/+", "trap/trap"], "range": ["circle", "triangle-up"]}, "legend": null},
        "fill": {"field": "g", "type": "nominal", "scale": {"domain": ["+/+", "trap/trap"], "range": ["black", "transparent"]}, "legend": null}
      }}
    ]},
   {"width": 219, "height": 259,
    "title": {"text": "D", "dx": -106, "dy": 45},
    "encoding": {
      "x": {"field": "px", "type": "quantitative", "scale": {"domain": [-0.513, 1.391], "nice": false, "zero": false}, "axis": {"labels": false, "ticks": false, "title": null}},
      "y": {"field": "yv", "type": "quantitative", "scale": {"domain": [0, 30], "nice": false}, "axis": {"values": [0, 10, 20, 30], "title": ["WNV E-specific IgG ASC", "(per 10⁷ BM cells)"], "titlePadding": 25}}
    },
    "layer": [
     {"data": {"name": "br"}, "transform": [{"filter": "datum.p == 'd'"}, {"calculate": "0.058", "as": "px"}, {"calculate": "0.884", "as": "px2"}, {"calculate": "datum.y", "as": "yv"}], "mark": {"type": "rule", "color": "black", "strokeWidth": 1.5}, "encoding": {"x2": {"field": "px2"}}},
     {"data": {"name": "br"}, "transform": [{"filter": "datum.p == 'd'"}, {"calculate": "0.058", "as": "xa"}, {"calculate": "0.884", "as": "xb"}, {"fold": ["xa", "xb"], "as": ["k", "px"]}, {"calculate": "datum.y", "as": "yv"}], "mark": {"type": "rule", "color": "black", "strokeWidth": 1.5}, "encoding": {"y2": {"field": "e"}}},
     {"data": {"name": "br"}, "transform": [{"filter": "datum.p == 'd'"}, {"calculate": "0.471", "as": "px"}, {"calculate": "datum.y", "as": "yv"}], "mark": {"type": "text", "text": "ns", "fontSize": 22, "dy": -7, "baseline": "alphabetic", "color": "black"}},
     {"data": {"name": "st"}, "transform": [{"filter": "datum.p == 'd'"}, {"calculate": "datum.g == '+/+' ? 0 : 1", "as": "px"}, {"calculate": "datum.lo", "as": "yv"}], "mark": {"type": "rule", "color": "black", "strokeWidth": 1.5}, "encoding": {"y2": {"field": "hi"}}},
     {"data": {"name": "st"}, "transform": [{"filter": "datum.p == 'd'"}, {"calculate": "datum.g == '+/+' ? 0 : 1", "as": "px"}, {"calculate": "datum.m", "as": "yv"}], "mark": {"type": "tick", "orient": "horizontal", "size": 76, "thickness": 1.5, "color": "black", "opacity": 1}},
     {"data": {"name": "st"}, "transform": [{"filter": "datum.p == 'd'"}, {"calculate": "datum.g == '+/+' ? 0 : 1", "as": "px"}, {"fold": ["lo", "hi"], "as": ["k", "yv"]}], "mark": {"type": "tick", "orient": "horizontal", "size": 38, "thickness": 1.5, "color": "black", "opacity": 1}},
     {"data": {"name": "pts"}, "transform": [{"filter": "datum.p == 'd'"}, {"calculate": "floor(datum.v/2.5)", "as": "b"}, {"window": [{"op": "row_number", "as": "r"}], "groupby": ["g", "b"], "sort": [{"field": "v", "order": "ascending"}]}, {"joinaggregate": [{"op": "count", "as": "n"}], "groupby": ["g", "b"]}, {"calculate": "(datum.g == '+/+' ? 0 : 1) + (datum.r - (datum.n + 1) / 2) * 0.11", "as": "px"}, {"calculate": "datum.v", "as": "yv"}],
      "mark": {"type": "point", "filled": true, "size": 190, "strokeWidth": 1.2, "opacity": 1},
      "encoding": {
        "shape": {"field": "g", "type": "nominal", "scale": {"domain": ["+/+", "trap/trap"], "range": ["circle", "triangle-up"]}, "legend": {"orient": "none", "legendX": 21, "legendY": 306, "direction": "horizontal", "title": null, "labelFontSize": 20, "labelFont": "Liberation Sans", "labelColor": "black", "symbolSize": 190, "symbolStrokeWidth": 1.2, "labelOffset": 3, "columnPadding": 35, "padding": 0}},
        "fill": {"field": "g", "type": "nominal", "scale": {"domain": ["+/+", "trap/trap"], "range": ["black", "transparent"]}, "legend": {"orient": "none", "legendX": 21, "legendY": 306, "direction": "horizontal", "title": null, "labelFontSize": 20, "labelFont": "Liberation Sans", "labelColor": "black", "symbolSize": 190, "symbolStrokeWidth": 1.2, "labelOffset": 3, "columnPadding": 35, "padding": 0}},
        "stroke": {"field": "g", "type": "nominal", "scale": {"domain": ["+/+", "trap/trap"], "range": ["black", "black"]}, "legend": {"orient": "none", "legendX": 21, "legendY": 306, "direction": "horizontal", "title": null, "labelFontSize": 20, "labelFont": "Liberation Sans", "labelColor": "black", "symbolSize": 190, "symbolStrokeWidth": 1.2, "labelOffset": 3, "columnPadding": 35, "padding": 0}}
      }}
    ]}
  ], "spacing": 74, "bounds": "flush",
  "resolve": {"scale": {"shape": "independent", "fill": "independent", "stroke": "independent"}, "legend": {"shape": "independent", "fill": "independent", "stroke": "independent"}}}
 ], "spacing": 70, "bounds": "flush",
 "resolve": {"scale": {"shape": "independent", "fill": "independent", "stroke": "independent"}, "legend": {"shape": "independent", "fill": "independent", "stroke": "independent"}}}
],
"spacing": 48,
"bounds": "full",
"resolve": {"scale": {"shape": "independent", "fill": "independent", "stroke": "independent"}, "legend": {"shape": "independent", "fill": "independent", "stroke": "independent"}}
}
